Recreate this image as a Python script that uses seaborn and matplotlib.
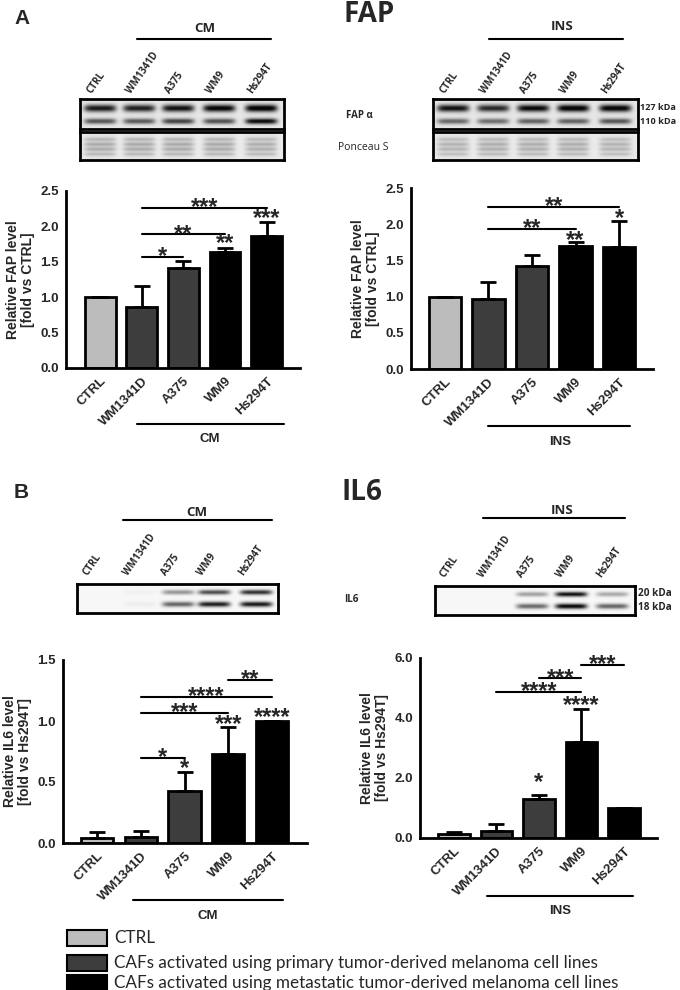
import matplotlib
matplotlib.use('Agg')
import matplotlib.pyplot as plt
import seaborn as sns
import numpy as np
from matplotlib.lines import Line2D
from matplotlib.patches import Rectangle

sns.set_theme(style='white')
plt.rcParams['font.family'] = ['Liberation Sans', 'DejaVu Sans']

W, H = 680, 990
CAL = ['Open Sans', 'DejaVu Sans']

# ---- data ----
lanes = ['CTRL', 'WM1341D', 'A375', 'WM9', 'Hs294T']
bar_colors = ['#bcbcbc', '#3d3d3d', '#3d3d3d', '#000000', '#000000']

fap_cm_mean = [1.0, 0.86, 1.41, 1.64, 1.86]
fap_cm_err = [0.0, 0.30, 0.10, 0.06, 0.20]
fap_ins_mean = [1.0, 0.97, 1.42, 1.70, 1.69]
fap_ins_err = [0.0, 0.23, 0.15, 0.05, 0.35]
il6_cm_mean = [0.04, 0.05, 0.43, 0.73, 1.0]
il6_cm_err = [0.05, 0.05, 0.15, 0.22, 0.0]
il6_ins_mean = [0.12, 0.25, 1.30, 3.20, 1.0]
il6_ins_err = [0.08, 0.23, 0.15, 1.10, 0.0]

# significance brackets (from lane, to lane, height, stars)
fap_cm_sig = [(1, 2, 1.57, '*'), (1, 3, 1.89, '**'), (1, 4, 2.26, '***')]
fap_cm_bar_sig = [(3, 1.76, '**'), (4, 2.11, '***')]
fap_ins_sig = [(1, 3, 1.94, '**'), (1, 4, 2.24, '**')]
fap_ins_bar_sig = [(3, 1.78, '**'), (4, 2.08, '*')]
il6_cm_sig = [(1, 2, 0.70, '*'), (1, 3, 1.066, '***'), (1, 4, 1.20, '****'), (3, 4, 1.34, '**')]
il6_cm_bar_sig = [(2, 0.61, '*'), (3, 0.97, '***'), (4, 1.03, '****')]
il6_ins_sig = [(1, 3, 4.87, '****'), (2, 3, 5.33, '***'), (3, 4, 5.77, '***')]
il6_ins_bar_sig = [(2, 1.85, '*'), (3, 4.40, '****')]

# western blot band intensities (0 = none, 1 = saturated)
fap_cm_127 = [0.85, 0.82, 0.88, 0.95, 1.0]
fap_cm_110 = [0.60, 0.58, 0.68, 0.62, 0.92]
fap_ins_127 = [0.88, 0.78, 0.92, 0.98, 0.96]
fap_ins_110 = [0.52, 0.50, 0.55, 0.55, 0.60]
ponceau_cm = [0.14, 0.14, 0.14, 0.14, 0.13]
ponceau_ins = [0.12, 0.13, 0.13, 0.13, 0.12]
il6_cm_20 = [0.0, 0.03, 0.40, 0.70, 0.82]
il6_cm_18 = [0.0, 0.04, 0.60, 0.90, 0.92]
il6_ins_20 = [0.0, 0.0, 0.35, 0.95, 0.32]
il6_ins_18 = [0.0, 0.0, 0.58, 1.0, 0.60]

legend_labels = ['CTRL',
                 'CAFs activated using primary tumor-derived melanoma cell lines',
                 'CAFs activated using metastatic tumor-derived melanoma cell lines']
legend_colors = ['#bcbcbc', '#3d3d3d', '#000000']

fig = plt.figure(figsize=(6.8, 9.9), dpi=100)


def rect(x0, y0, x1, y1):
    return [x0 / W, 1 - y1 / H, (x1 - x0) / W, (y1 - y0) / H]


def ftext(x, y, s, **kw):
    fig.text(x / W, 1 - y / H, s, **kw)


def fline(x0, x1, y, lw=1.5):
    fig.add_artist(Line2D([x0 / W, x1 / W], [1 - y / H, 1 - y / H],
                          transform=fig.transFigure, color='black', lw=lw))


def draw_blot(box, centers, bands, base=0.04, lane_w=32):
    x0, y0, x1, y1 = box
    ax = fig.add_axes(rect(x0, y0, x1, y1))
    X, Y = np.meshgrid(np.arange(x0, x1, 0.5), np.arange(y0, y1, 0.5))
    dark = np.full(X.shape, base)
    for yc, vals, sy in bands:
        for cx, v in zip(centers, vals):
            dark += v * np.exp(-((X - cx) / (lane_w / 2)) ** 6) * np.exp(-((Y - yc) / sy) ** 2)
    img = 1 - np.clip(dark, 0, 1) * 0.97
    ax.imshow(img, cmap='gray', vmin=0, vmax=1, extent=[x0, x1, y1, y0],
              aspect='auto', interpolation='bilinear')
    ax.set_xticks([])
    ax.set_yticks([])
    for s in ax.spines.values():
        s.set_linewidth(2)
        s.set_color('black')
        s.set_visible(True)
    return ax


def lane_labels(centers, y, dx=-6):
    for cx, name in zip(centers, lanes):
        ftext(cx + dx, y, name, rotation=55, ha='left', va='bottom',
              rotation_mode='anchor', fontsize=7, fontweight='bold', family=CAL)


def bar_panel(box, xlim, means, errs, ylim, yticks, ylabel, sig, bar_sig):
    ax = fig.add_axes(rect(*box))
    sns.barplot(x=lanes, y=means, hue=lanes, palette=bar_colors, legend=False,
                edgecolor='black', linewidth=2, width=0.74, ax=ax, saturation=1)
    xs = np.arange(len(lanes))
    lo = np.zeros(len(lanes))
    ax.errorbar(xs, means, yerr=[lo, errs], fmt='none', ecolor='black',
                elinewidth=2, capsize=6, capthick=2, zorder=1)
    ax.set_xlim(*xlim)
    ax.set_ylim(*ylim)
    ax.set_yticks(yticks)
    ax.set_yticklabels(['%.1f' % t for t in yticks], fontsize=9.5, fontweight='bold')
    ax.set_xticks(xs)
    ax.set_xticklabels(lanes, rotation=45, ha='right', rotation_mode='anchor',
                       fontsize=9.5, fontweight='bold')
    ax.set_xlabel('')
    ax.set_ylabel(ylabel, fontsize=10, fontweight='bold', labelpad=4, linespacing=1.1)
    sns.despine(ax=ax)
    for s in ['left', 'bottom']:
        ax.spines[s].set_linewidth(2)
        ax.spines[s].set_color('black')
    ax.tick_params(axis='both', direction='out', length=4, width=1.5, color='black', pad=1)
    ax.set_facecolor('none')
    for i, j, y, txt in sig:
        ax.plot([i, j], [y, y], color='black', lw=1.5, clip_on=False)
        ax.text((i + j) / 2, y, txt, ha='center', va='center', fontsize=17,
                fontweight='bold', clip_on=False)
    for i, y, txt in bar_sig:
        ax.text(i, y, txt, ha='center', va='center', fontsize=17,
                fontweight='bold', clip_on=False)
    return ax


# ---------------- panel A : FAP ----------------
ftext(14, 18, 'A', fontsize=15, fontweight='bold', va='center')
ftext(343, 15, 'FAP', fontsize=20, fontweight='bold', va='center', family=CAL)

ftext(205, 29, 'CM', fontsize=9.5, fontweight='bold', ha='center', va='center', family=CAL)
fline(137, 271, 39)
ftext(562, 27, 'INS', fontsize=9.5, fontweight='bold', ha='center', va='center', family=CAL)
fline(489, 623, 39)

fap_l_c = [100, 139, 178, 219, 261]
fap_r_c = [453, 493, 533, 573, 615]
lane_labels(fap_l_c, 96)
lane_labels(fap_r_c, 96)

draw_blot((80, 99, 284, 129), fap_l_c,
          [(108, fap_cm_127, 3.6), (121, fap_cm_110, 2.8)], base=0.10)
draw_blot((80, 132, 284, 160), fap_l_c,
          [(139, ponceau_cm, 1.5), (144, ponceau_cm, 1.5), (149, ponceau_cm, 1.5),
           (154, ponceau_cm, 1.5), (146, ponceau_cm, 10.0)], base=0.08)
draw_blot((433, 99, 638, 129), fap_r_c,
          [(108, fap_ins_127, 3.6), (121, fap_ins_110, 2.8)], base=0.10)
draw_blot((433, 132, 638, 160), fap_r_c,
          [(139, ponceau_ins, 1.5), (144, ponceau_ins, 1.5), (149, ponceau_ins, 1.5),
           (154, ponceau_ins, 1.5), (146, ponceau_ins, 10.0)], base=0.08)

ftext(346, 116, 'FAP α', fontsize=7, fontweight='bold', va='center', family=CAL)
ftext(338, 148, 'Ponceau S', fontsize=7.5, va='center', family=CAL)
ftext(640, 108, '127 kDa', fontsize=6.6, fontweight='bold', va='center', family=CAL)
ftext(640, 122, '110 kDa', fontsize=6.6, fontweight='bold', va='center', family=CAL)

bar_panel((66, 191, 300, 368), (-0.82, 4.8), fap_cm_mean, fap_cm_err,
          (0, 2.5), [0, 0.5, 1.0, 1.5, 2.0, 2.5],
          'Relative FAP level\n[fold vs CTRL]', fap_cm_sig, fap_cm_bar_sig)
bar_panel((411, 188, 653, 369), (-0.78, 4.78), fap_ins_mean, fap_ins_err,
          (0, 2.5), [0, 0.5, 1.0, 1.5, 2.0, 2.5],
          'Relative FAP level\n[fold vs CTRL]', fap_ins_sig, fap_ins_bar_sig)

fline(137, 284, 424)
ftext(210, 439, 'CM', fontsize=9.5, fontweight='bold', ha='center', va='center')
fline(488, 630, 426)
ftext(560, 442, 'INS', fontsize=9.5, fontweight='bold', ha='center', va='center')

# ---------------- panel B : IL6 ----------------
ftext(14, 492, 'B', fontsize=15, fontweight='bold', va='center')
ftext(342, 492, 'IL6', fontsize=20, fontweight='bold', va='center', family=CAL)

ftext(197, 512, 'CM', fontsize=9.5, fontweight='bold', ha='center', va='center', family=CAL)
fline(123, 272, 520)
ftext(562, 510, 'INS', fontsize=9.5, fontweight='bold', ha='center', va='center', family=CAL)
fline(483, 625, 518)

il6_l_c = [100, 140, 178, 214, 256]
il6_r_c = [455, 493, 532, 571, 612]
lane_labels(il6_l_c, 578, dx=-10)
lane_labels(il6_r_c, 580, dx=-8)

draw_blot((77, 584, 278, 613), il6_l_c,
          [(592, il6_cm_20, 2.4), (604, il6_cm_18, 2.6)], base=0.03)
draw_blot((435, 586, 635, 615), il6_r_c,
          [(594, il6_ins_20, 2.4), (606, il6_ins_18, 2.6)], base=0.03)

ftext(344, 600, 'IL6', fontsize=7, fontweight='bold', va='center', family=CAL)
ftext(638, 593, '20 kDa', fontsize=7.2, fontweight='bold', va='center', family=CAL)
ftext(638, 607, '18 kDa', fontsize=7.2, fontweight='bold', va='center', family=CAL)

bar_panel((63, 660, 307, 843), (-0.78, 4.8), il6_cm_mean, il6_cm_err,
          (0, 1.5), [0, 0.5, 1.0, 1.5],
          'Relative IL6 level\n[fold vs Hs294T]', il6_cm_sig, il6_cm_bar_sig)
bar_panel((420, 658, 657, 838), (-0.80, 4.78), il6_ins_mean, il6_ins_err,
          (0, 6.0), [0, 2.0, 4.0, 6.0],
          'Relative IL6 level\n[fold vs Hs294T]', il6_ins_sig, il6_ins_bar_sig)

fline(133, 283, 900)
ftext(208, 916, 'CM', fontsize=9.5, fontweight='bold', ha='center', va='center')
fline(487, 633, 896)
ftext(560, 911, 'INS', fontsize=9.5, fontweight='bold', ha='center', va='center')

# ---------------- legend ----------------
for k, (lab, col) in enumerate(zip(legend_labels, legend_colors)):
    yc = [938, 963, 983][k]
    fig.add_artist(Rectangle((67 / W, 1 - (yc + 8) / H), 40 / W, 16 / H,
                             transform=fig.transFigure, facecolor=col,
                             edgecolor='black', lw=1.5))
    ftext(114, yc, lab, fontsize=12.3, va='center', family=['Lato', 'DejaVu Sans'])

fig.savefig('out.png', dpi=100)
